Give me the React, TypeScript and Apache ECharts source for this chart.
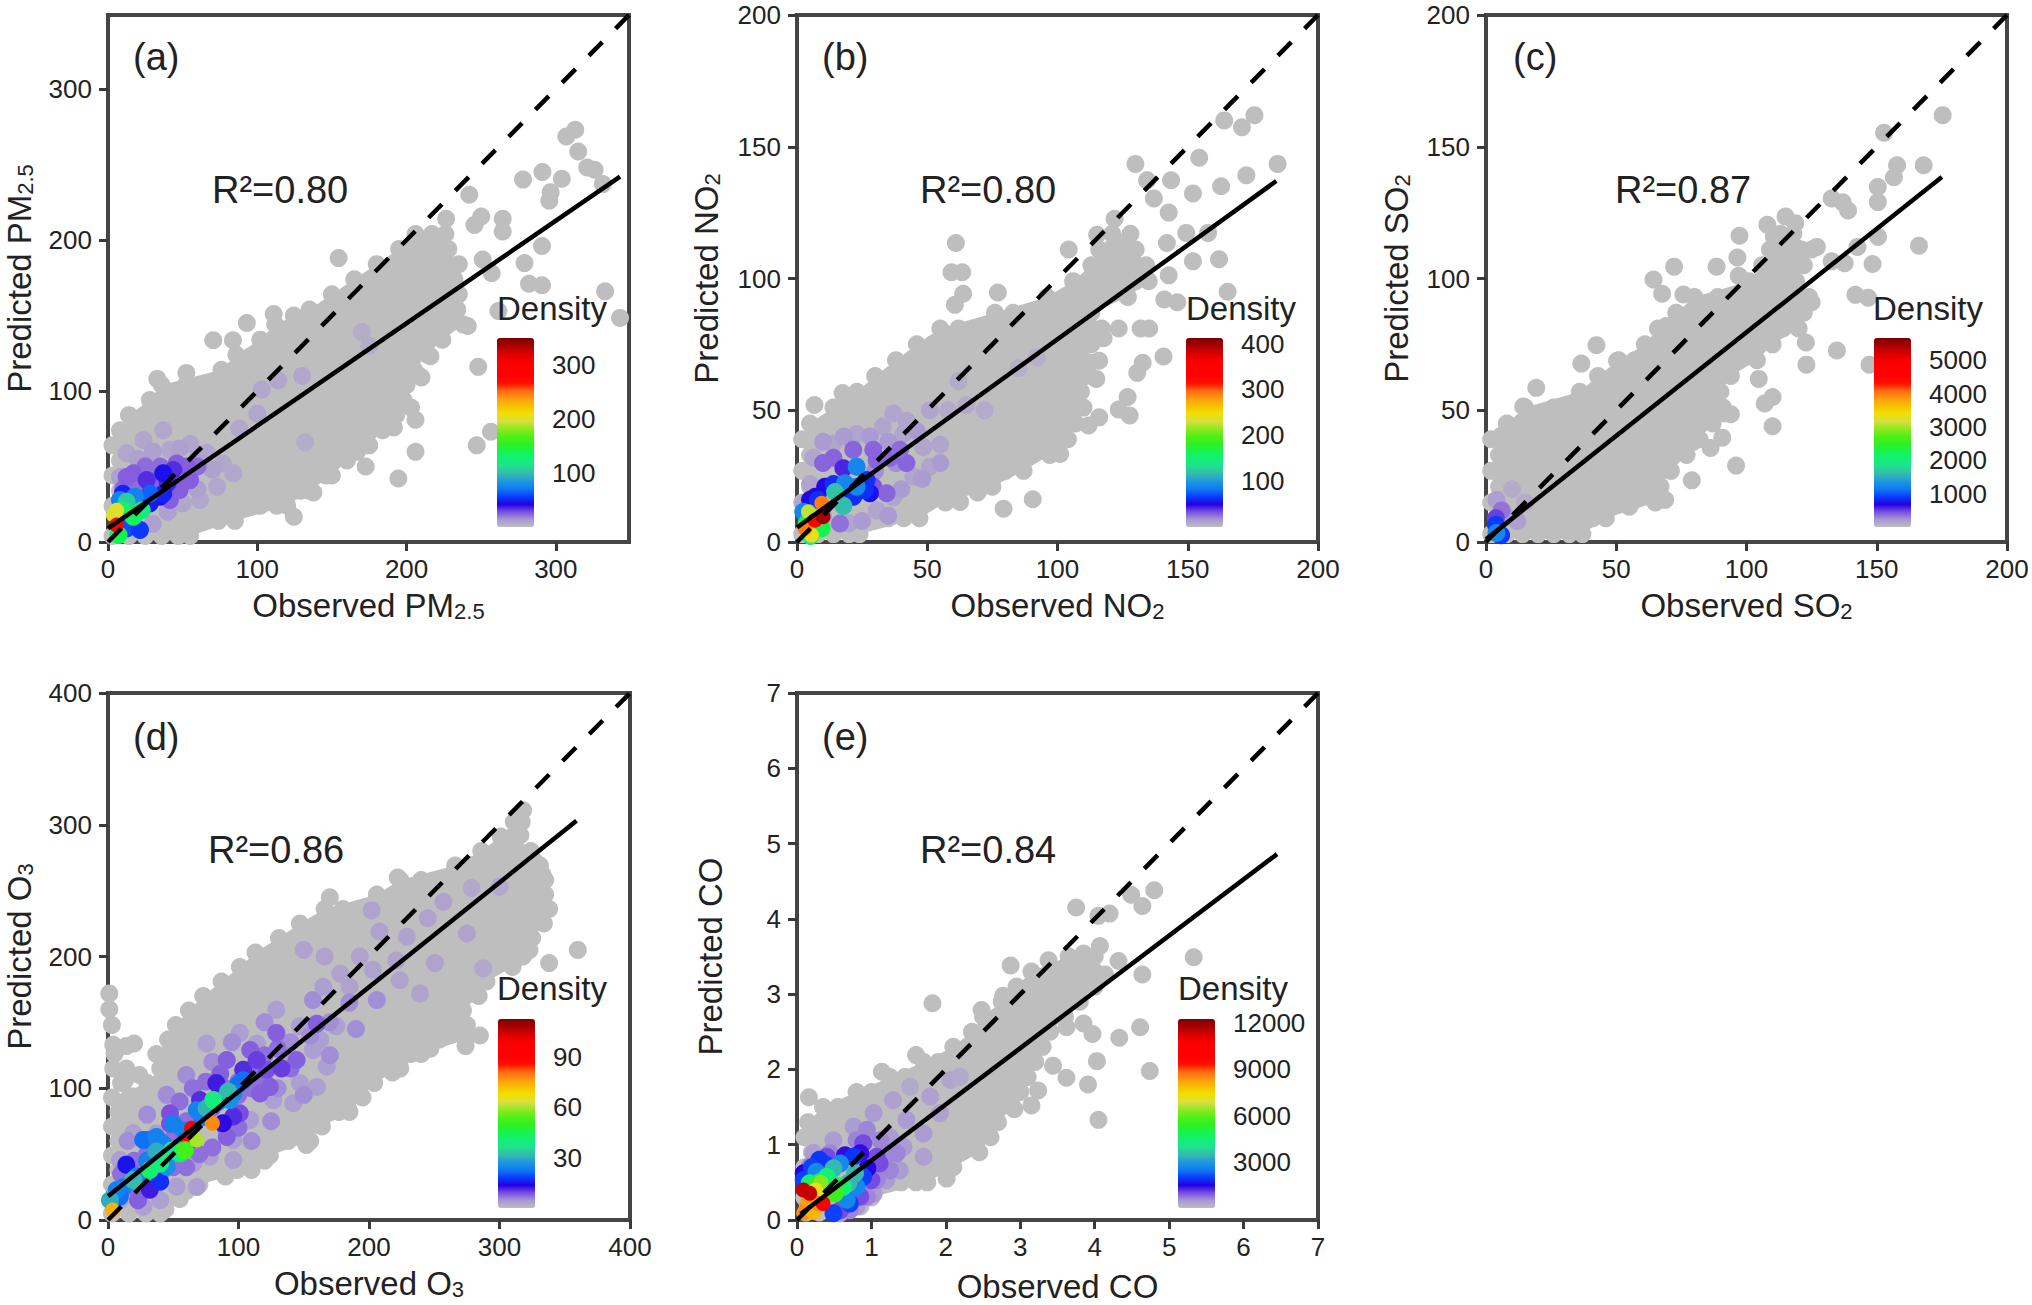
import React, { useEffect, useRef } from "react";
import * as echarts from "echarts";

// ---------- tick labels ----------
const ticksA = [0, 100, 200, 300];
const ticksB = [0, 50, 100, 150, 200];
const ticksC = [0, 50, 100, 150, 200];
const ticksD = [0, 100, 200, 300, 400];
const ticksE = [0, 1, 2, 3, 4, 5, 6, 7];
const densityTicksA = [100, 200, 300];
const densityTicksB = [100, 200, 300, 400];
const densityTicksC = [1000, 2000, 3000, 4000, 5000];
const densityTicksD = [30, 60, 90];
const densityTicksE = [3000, 6000, 9000, 12000];

// ---------- fitted lines [x, y] ----------
const fitA = [[0, 9], [343, 242]];
const fitB = [[0, 5.5], [184, 137]];
const fitC = [[0, 1], [175, 138.5]];
const fitD = [[0, 18], [359, 303]];
const fitE = [[0.05, 0.08], [6.45, 4.86]];

// ---------- gray points, rows of [y, x, x, ...] ----------
const rowsA = [
  [4, 3, 14, 25, 36, 47, 55],
  [14, 8, 19, 30, 41, 52, 63, 74, 85],
  [24, 3, 14, 25, 36, 47, 58, 69, 80, 91, 102, 113, 120],
  [34, 8, 19, 30, 41, 52, 63, 74, 85, 96, 107, 118, 129, 135],
  [44, 3, 14, 25, 36, 47, 58, 69, 80, 91, 102, 113, 124, 135, 146, 150],
  [54, 8, 19, 30, 41, 52, 63, 74, 85, 96, 107, 118, 129, 140, 151, 160],
  [64, 3, 14, 25, 36, 47, 58, 69, 80, 91, 102, 113, 124, 135, 146, 157, 168, 175],
  [74, 8, 19, 30, 41, 52, 63, 74, 85, 96, 107, 118, 129, 140, 151, 162, 173, 184],
  [84, 14, 25, 36, 47, 58, 69, 80, 91, 102, 113, 124, 135, 146, 157, 168, 179, 193],
  [94, 28, 41, 52, 63, 74, 85, 96, 107, 118, 129, 140, 151, 162, 173, 184, 198],
  [104, 36, 52, 63, 74, 87, 98, 109, 120, 131, 142, 153, 164, 175, 186, 200],
  [114, 76, 90, 102, 113, 124, 135, 146, 157, 168, 179, 190, 205],
  [124, 86, 100, 113, 124, 135, 146, 157, 168, 179, 190, 201, 214],
  [134, 102, 113, 124, 135, 146, 157, 168, 179, 190, 201, 212, 224],
  [144, 112, 125, 138, 149, 160, 171, 182, 193, 204, 215, 226, 238],
  [154, 135, 146, 157, 168, 179, 190, 201, 212, 223, 234],
  [164, 150, 161, 172, 183, 194, 205, 216, 227, 235],
  [174, 165, 176, 187, 198, 209, 220, 232],
  [184, 180, 191, 202, 213, 224, 235],
  [194, 195, 206, 217, 228],
  [204, 206, 217, 226],
];
const rowsB = [
  [3, 2, 8, 14, 20, 24],
  [9, 5, 11, 17, 23, 29, 35, 41, 47],
  [15, 2, 8, 14, 20, 26, 32, 38, 44, 50, 57],
  [21, 5, 11, 17, 23, 29, 35, 41, 47, 53, 59, 65, 71, 75],
  [27, 2, 8, 14, 20, 26, 32, 38, 44, 50, 56, 62, 68, 74, 80, 87],
  [33, 5, 11, 17, 23, 29, 35, 41, 47, 53, 59, 65, 71, 77, 83, 89, 97],
  [39, 2, 8, 14, 20, 26, 32, 38, 44, 50, 56, 62, 68, 74, 80, 86, 92, 98, 104],
  [45, 5, 11, 17, 23, 29, 35, 41, 47, 53, 59, 65, 71, 77, 83, 89, 95, 101, 107],
  [51, 14, 20, 26, 32, 38, 44, 50, 56, 62, 68, 74, 80, 86, 92, 98, 104, 110],
  [57, 23, 29, 35, 41, 47, 53, 59, 65, 71, 77, 83, 89, 95, 101, 109],
  [63, 30, 36, 42, 48, 54, 60, 66, 72, 78, 84, 90, 96, 102, 111],
  [69, 38, 44, 50, 56, 62, 68, 74, 80, 86, 92, 98, 104, 110],
  [75, 46, 52, 58, 64, 70, 76, 82, 88, 94, 100, 106, 113],
  [81, 55, 62, 68, 74, 80, 86, 92, 98, 104, 110, 117],
  [87, 76, 83, 89, 95, 101, 107, 113],
  [93, 96, 103, 110, 118, 127],
  [99, 106, 114, 122, 130, 135],
  [105, 113, 120, 127, 134],
  [111, 116, 123, 130],
  [117, 121, 128],
];
const rowsC = [
  [3, 2, 8, 14, 20, 26, 32, 37],
  [9, 5, 11, 17, 23, 29, 35, 41, 46],
  [15, 2, 8, 14, 20, 26, 32, 38, 44, 50, 56, 65],
  [21, 5, 11, 17, 23, 29, 35, 41, 47, 53, 59, 67],
  [27, 2, 8, 14, 20, 26, 32, 38, 44, 50, 56, 62, 71],
  [33, 5, 11, 17, 23, 29, 35, 41, 47, 53, 59, 65, 71, 77],
  [39, 2, 8, 14, 20, 26, 32, 38, 44, 50, 56, 62, 68, 74, 82],
  [45, 8, 14, 20, 26, 32, 38, 44, 50, 56, 62, 68, 74, 80, 87],
  [51, 15, 26, 32, 38, 44, 50, 56, 62, 68, 74, 80, 86, 91],
  [57, 36, 42, 48, 54, 60, 66, 72, 78, 84, 90],
  [63, 43, 49, 55, 61, 67, 73, 79, 85, 94],
  [69, 51, 57, 63, 69, 75, 81, 87, 93, 104],
  [75, 61, 67, 73, 79, 85, 91, 98, 104, 110],
  [81, 66, 72, 78, 84, 90, 96, 102, 108, 114, 120],
  [87, 73, 80, 86, 92, 98, 104, 110, 116, 122],
  [93, 80, 89, 100, 106, 112, 118, 124],
  [99, 101, 107, 113, 119],
  [105, 106, 112, 118, 122],
  [111, 109, 115, 121, 125],
  [117, 113, 118],
];
const rowsD = [
  [5, 3, 16, 29, 40],
  [16, 8, 21, 34, 47, 55],
  [27, 3, 16, 29, 42, 55, 70],
  [38, 8, 21, 34, 47, 60, 73, 86, 99, 110],
  [49, 3, 16, 29, 42, 55, 68, 81, 94, 107, 124],
  [60, 8, 21, 34, 47, 60, 73, 86, 99, 112, 125, 138, 155],
  [71, 3, 16, 29, 42, 55, 68, 81, 94, 107, 120, 133, 146, 164],
  [82, 8, 21, 34, 47, 60, 73, 86, 99, 112, 125, 138, 151, 164, 177, 185],
  [93, 3, 16, 29, 42, 55, 68, 81, 94, 107, 120, 133, 146, 159, 172, 185, 195],
  [104, 30, 47, 60, 73, 86, 99, 112, 125, 138, 151, 164, 177, 190, 204],
  [115, 40, 55, 68, 81, 94, 107, 120, 133, 146, 159, 172, 185, 198, 211, 224],
  [126, 37, 50, 63, 76, 89, 102, 115, 128, 141, 154, 167, 180, 193, 206, 219, 232, 240],
  [137, 46, 59, 72, 85, 98, 111, 124, 137, 150, 163, 176, 189, 202, 215, 228, 241, 254, 274],
  [148, 52, 65, 78, 91, 104, 117, 130, 143, 156, 169, 182, 195, 208, 221, 234, 247, 260, 275],
  [159, 62, 75, 88, 101, 114, 127, 140, 153, 166, 179, 192, 205, 218, 231, 244, 257, 272],
  [170, 73, 86, 99, 112, 125, 138, 151, 164, 177, 190, 203, 216, 229, 242, 255, 268, 284],
  [181, 87, 100, 113, 126, 139, 152, 165, 178, 191, 204, 217, 230, 243, 256, 269, 282, 290],
  [192, 101, 114, 127, 140, 153, 166, 179, 192, 205, 218, 231, 244, 257, 270, 283, 296, 310],
  [203, 113, 126, 139, 152, 165, 178, 191, 204, 217, 230, 243, 256, 269, 282, 295, 308, 320],
  [214, 131, 144, 157, 170, 183, 196, 209, 222, 235, 248, 261, 274, 287, 300, 313, 325],
  [225, 147, 163, 176, 189, 202, 215, 228, 241, 254, 267, 280, 293, 306, 319, 334],
  [236, 166, 180, 193, 206, 219, 232, 245, 258, 271, 284, 297, 310, 323, 338],
  [247, 206, 219, 232, 245, 258, 271, 284, 297, 310, 323, 335],
  [258, 224, 240, 260, 273, 286, 299, 312, 325, 335],
  [269, 266, 279, 292, 305, 318, 331],
  [280, 286, 299, 312, 324],
  [291, 301, 313],
  [302, 311, 317],
];
const rowsE = [
  [0.1, 0.12, 0.3, 0.5],
  [0.3, 0.1, 0.3, 0.5, 0.7, 0.85, 1.0],
  [0.5, 0.2, 0.4, 0.6, 0.8, 1.0, 1.2, 1.4, 1.6, 1.75],
  [0.7, 0.1, 0.3, 0.5, 0.7, 0.9, 1.1, 1.3, 1.5, 1.7, 1.9, 2.1],
  [0.9, 0.2, 0.4, 0.6, 0.8, 1.0, 1.2, 1.4, 1.6, 1.8, 2.0, 2.2, 2.45],
  [1.1, 0.1, 0.3, 0.5, 0.7, 0.9, 1.1, 1.3, 1.5, 1.7, 1.9, 2.1, 2.3, 2.6],
  [1.3, 0.15, 0.4, 0.6, 0.8, 1.0, 1.2, 1.4, 1.6, 1.8, 2.0, 2.2, 2.4, 2.7],
  [1.5, 0.35, 0.55, 0.75, 0.95, 1.15, 1.35, 1.55, 1.75, 1.95, 2.15, 2.35, 2.55, 2.9],
  [1.7, 0.8, 1.0, 1.2, 1.4, 1.6, 1.8, 2.0, 2.2, 2.4, 2.6, 3.0],
  [1.9, 1.25, 1.45, 1.65, 1.85, 2.05, 2.25, 2.45, 2.65, 2.85, 3.1],
  [2.1, 1.7, 1.9, 2.1, 2.3, 2.5, 2.7, 2.9, 3.2],
  [2.3, 2.1, 2.3, 2.5, 2.7, 2.9, 3.1, 3.3],
  [2.5, 2.35, 2.55, 2.75, 2.95, 3.15, 3.4],
  [2.7, 2.5, 2.7, 2.9, 3.1, 3.3, 3.6],
  [2.9, 2.75, 2.95, 3.15, 3.35, 3.55, 3.8],
  [3.1, 2.95, 3.15, 3.35, 3.55, 3.75, 4.0],
  [3.3, 3.15, 3.4, 3.6, 3.8, 4.0],
  [3.5, 3.65, 3.85, 4.0],
];

// ---------- scattered gray points [x, y] ----------
const looseA = [
  [313, 273], [307, 268.5], [315, 258.6], [321, 248], [326, 246.5], [291, 245], [304, 240.6], [278, 240],
  [296.5, 231.7], [295.6, 226], [331.5, 237], [242, 230], [250, 215.6], [245.5, 210], [226.5, 214],
  [264.4, 214], [264.4, 205.6], [290.7, 196], [279, 184.7], [251, 187], [257, 178], [282, 171], [290.7, 170],
  [333, 166], [343, 148.4], [154.5, 188], [261.5, 153], [229.5, 149.7], [241, 143], [248, 116], [256.5, 73],
  [247, 64], [206, 59.7], [194.5, 42], [191.5, 75.8], [206, 81], [203, 89], [210, 109], [207.6, 110.8],
  [216, 123], [111, 151], [124.5, 150], [93, 145], [70.5, 133.6], [83.7, 133.6], [103, 131], [33, 108],
  [52.5, 112], [124.5, 16.7], [172.6, 50], [166.8, 59.7], [137.6, 32.8],
];
const looseB = [
  [175.6, 162], [164, 160], [170.8, 157.4], [154.4, 145.8], [184.5, 143.5], [129.9, 143.5], [172.5, 139.2],
  [162.8, 135], [143.6, 137.3], [134.4, 137.3], [152, 132.3], [137, 130.4], [142.7, 125], [121.9, 122.7],
  [149.4, 117.3], [157.8, 117.3], [115.2, 116.6], [142, 113.5], [162, 107.3], [152, 106.5], [104.3, 111],
  [61, 113.5], [59.3, 102.4], [63.4, 102.4], [63.8, 94.2], [60.6, 90], [77.1, 94.7], [165.3, 95], [141, 92],
  [146, 91], [140.7, 70.4], [131.9, 81], [135.2, 81], [130.6, 64.2], [132.7, 68], [126.9, 55], [127.7, 48],
  [123.5, 50.3], [111.9, 44.2], [116, 47.3], [101, 33.4], [90.5, 16.2], [79.3, 12.6], [69.3, 18.8],
  [62.6, 15.2], [17.5, 56.5], [6.7, 52], [114.9, 61.9], [112.7, 68], [116, 68.8], [126.9, 98], [142.7, 101.2],
  [117.7, 77.3], [123.5, 81],
];
const looseC = [
  [175.3, 162], [152.8, 155.3], [157.8, 143], [156.6, 138.4], [168, 143], [150.4, 134.7], [150.4, 129],
  [132.7, 130.4], [136.9, 128.9], [139, 125.8], [150.5, 115.8], [142.6, 112], [166.2, 112.4], [148.4, 105.5],
  [137.7, 105.8], [132.7, 106.5], [141.8, 93.8], [146.7, 92.7], [147.2, 67.3], [134.7, 72.7], [122.8, 75.7],
  [123, 67.3], [115, 123.5], [118.7, 121], [108, 120.4], [110.5, 115.8], [97.3, 116.2], [96.5, 108], [97, 101],
  [88.5, 104.5], [72.2, 104.5], [64.3, 99.6], [67.6, 94.2], [75.8, 93.9], [80.8, 89.6], [73.4, 86.5],
  [69.2, 82], [42.4, 74.7], [36.6, 67.7], [50.3, 68.8], [19.3, 58.5], [14.3, 51.4], [5.8, 40.3], [8.2, 42.6],
  [110, 43.9], [107, 52.6], [110, 55], [96, 29], [79, 23.4], [68.8, 16], [55, 13.4], [91.5, 48.8], [94, 48.5],
  [90.7, 39.6], [86.2, 35.7], [79.5, 38], [104.7, 61.9], [127, 112], [125, 91],
];
const looseD = [
  [318, 311], [316, 292], [302, 288], [311, 270], [327, 272], [333, 262], [329, 240], [326, 227], [331, 228],
  [360, 205], [338, 195], [318, 200], [323, 205], [170, 245], [222, 260], [152, 57], [120, 45], [90, 33],
  [1, 172], [1, 160], [3, 148], [4, 133], [20, 134], [14, 132], [24, 110], [13, 106], [22, 90], [18, 94],
  [285, 140], [274, 132], [247, 130], [218, 112], [200, 107], [184, 84], [60, 22], [44, 8],
  [10, 104], [4, 115], [14, 115], [5, 126],
];
const looseE = [
  [4.8, 4.38], [4.49, 4.32], [4.64, 4.17], [4.2, 4.07], [4.05, 4.04], [3.75, 4.15], [4.07, 3.64], [4.32, 3.44],
  [5.33, 3.49], [4.64, 3.26], [4.14, 3.26], [2.87, 3.38], [3.38, 3.45], [3.85, 3.54], [1.82, 2.88], [4.61, 2.56],
  [4.33, 2.42], [4.03, 2.11], [4.74, 1.98], [4.05, 1.33], [3.91, 1.8], [3.62, 1.89], [3.44, 2.05], [3.18, 2.14],
  [3.85, 2.61], [3.97, 2.47], [3.62, 2.56], [3.24, 1.72], [3.15, 1.52], [2.92, 1.47], [0.16, 1.63], [1.14, 1.97],
  [1.6, 2.19], [2.48, 2.79], [2.77, 2.98], [2.01, 0.55], [0.85, 0.18],
];

// ---------- coloured points [x, y, density], painted in this order ----------
const hotA = [
  [37, 74, 8], [55, 65, 8], [66, 59, 8], [77, 52, 8], [84, 45.5, 8], [73, 36.6, 8], [61.6, 27.8, 8], [50, 25.6, 8],
  [12.5, 58.7, 8], [23.7, 67.5, 8], [41.5, 61, 8], [8, 43, 10], [103, 101, 8], [114, 107, 8], [130, 110, 8],
  [100, 85, 8], [88, 75, 8], [170, 139, 6], [175, 130, 6], [132, 66, 6],
  [20, 55, 10], [30, 60, 10], [48, 62, 10], [60, 55, 10], [70, 48, 10], [40, 20, 10], [30, 12, 10], [60, 35, 10],
  [20, 38, 22], [35, 50, 22], [60, 50, 22], [45, 35, 22], [25, 50, 22], [30, 35, 22], [10, 35, 22],
  [17, 45.5, 25], [32.6, 41, 25], [46, 52, 25], [55, 41, 25], [48, 34.4, 25], [52.7, 50, 25], [41.5, 27.8, 25], [12.5, 43, 25],
  [25.9, 41, 34], [43.8, 47.7, 34], [40, 39, 36],
  [37, 45.5, 46], [34.8, 30, 46], [28, 25.6, 48], [10, 32, 50], [16, 12.4, 52],
  [37, 32, 50], [12.5, 9, 60], [21.4, 8, 55],
  [8, 27.8, 75], [28, 32, 65], [18, 30, 75],
  [12.5, 26.7, 105],
  [22.6, 21, 120], [10, 21, 130], [17, 16.8, 135], [7, 4.6, 140],
  [5.8, 21, 200], [3.6, 17.9, 200], [5.8, 11.3, 290],
];
const hotB = [
  [6.3, 32, 10], [14, 37.4, 10], [23, 41, 10], [33, 43.8, 10], [40.8, 41, 10], [48.5, 36, 10], [51, 28.6, 10],
  [44.7, 24.8, 10], [37, 17, 10], [30.6, 12, 10], [20, 7, 10], [5, 22, 10], [2.4, 14.7, 10], [55, 37, 10],
  [37, 48.8, 10], [42, 46, 10], [51, 50, 10], [72, 50, 8], [62, 61, 8], [58, 50, 8], [92, 70, 6], [85, 66, 6], [65, 52, 8],
  [10, 38, 14], [18, 40, 14], [28, 40, 14], [35, 38, 14], [46, 42, 14], [55, 30, 14], [48, 24, 14], [40, 20, 14],
  [25, 8, 14], [35, 10, 14], [10, 10, 14], [30, 27, 18], [38, 30, 18],
  [14, 32, 28], [21.6, 35, 28], [29.3, 35, 28], [35.7, 32, 28], [42, 30, 28], [39.5, 35, 26], [30.6, 31, 28],
  [29.3, 21, 32], [34.4, 18.5, 28], [16.5, 7, 25], [10, 30, 28],
  [17.8, 28, 42],
  [10.8, 21, 52], [7, 17.2, 52], [5, 16, 52], [28, 18.5, 55],
  [26.7, 23.5, 62], [26, 19.7, 62], [21.6, 17.2, 62], [8, 16, 62], [14, 22, 62],
  [22.9, 28.6, 90], [18.4, 22.3, 90], [22.9, 21, 90], [2.4, 11.5, 90],
  [14.6, 19, 120], [17.8, 13.7, 118],
  [3.7, 7, 165], [9.5, 5.2, 165], [5.2, 2.3, 140],
  [4.4, 11.5, 225], [5.6, 2.6, 240], [9.5, 14.7, 290], [3, 5.2, 290],
  [6.9, 8.3, 330], [10, 9.6, 395],
];
const hotC = [
  [10, 20, 100], [15, 15, 100], [4, 16, 170], [8, 9.5, 170], [12, 8, 170], [6, 12, 340], [3.8, 9, 500],
  [3.8, 6.5, 900], [5.8, 2.6, 900], [4, 3.4, 1250],
];
const hotD = [
  [19.4, 65.8, 3.5], [37.3, 65.8, 3.5], [9.2, 45.6, 3.5], [19.4, 25.3, 3.5], [75.6, 134, 3.5], [101, 142, 3.5], [129, 159.5, 3.5],
  [114, 134, 3.5], [147, 147, 3.5], [137, 126.6, 3.5], [157, 129, 3.5], [167.6, 116.5, 3.5], [147, 104, 3.5], [126.7, 91, 3.5],
  [142, 88.6, 3.5], [109, 76, 3.5], [96, 60.8, 3.5], [78, 48, 3.5], [65.4, 43, 3.5], [52.6, 25.3, 3.5], [40, 15, 3.5], [27, 10, 3.5],
  [9, 15, 3.5], [96, 45.6, 3.5], [68, 25, 3.5], [162.5, 136.7, 3.5], [160, 101, 3.5],
  [202, 235, 3], [208, 219, 3], [229, 215, 3], [245, 229, 3], [257, 241.6, 3], [275, 217.5, 3], [300, 253, 2.5], [278.5, 252, 2.5],
  [287.5, 191, 2.5], [250.5, 195, 3], [193, 200, 3], [166, 200, 3], [150, 205, 3], [206, 167, 5], [239, 172, 3], [223.6, 182, 3],
  [203, 190, 3], [175, 147, 3.5], [157, 167, 5], [165, 177, 3.5], [178, 187, 3], [185, 177, 3], [221, 197, 3],
  [120, 150, 5], [140, 135, 5], [155, 140, 5], [170, 150, 5], [185, 165, 5], [130, 100, 5], [150, 95, 5], [170, 125, 5], [190, 145, 5],
  [60, 110, 5], [45, 95, 5], [30, 80, 5], [15, 60, 5], [80, 120, 5], [95, 135, 5], [110, 60, 5], [125, 75, 5],
  [10, 35, 7], [20, 45, 7], [30, 50, 7], [40, 58, 7], [50, 62, 7], [60, 75, 7], [70, 78, 7], [80, 85, 7], [90, 100, 7], [100, 105, 7],
  [110, 100, 7], [120, 105, 7], [60, 40, 7], [70, 50, 7], [80, 55, 7], [90, 70, 7], [100, 70, 7], [30, 30, 7], [40, 35, 7], [50, 40, 7],
  [20, 25, 7], [10, 20, 7], [55, 90, 7], [65, 100, 7], [75, 105, 7], [85, 95, 7], [120, 125, 7], [130, 130, 7], [140, 115, 7], [110, 115, 7], [100, 95, 7],
  [160, 149, 8], [129, 142, 8], [144.5, 121.5, 8], [47.5, 81, 9], [47.5, 73, 9], [29.6, 60.8, 9], [23, 15, 8], [101, 81, 9], [121.6, 114, 9],
  [124, 101, 8], [109, 129, 8], [91, 121.5, 8], [86, 111, 8], [116.5, 96, 8], [91, 63, 8], [96, 78.5, 11], [70.5, 91, 11],
  [103.6, 114, 11], [32, 23, 12],
  [40, 29, 17], [14, 42, 15], [83, 104, 12], [114, 121.5, 10], [133, 115, 10], [88, 73.4, 13],
  [12, 25, 24], [22, 33, 24], [30, 45, 24], [42, 58, 24], [58, 68, 24], [72, 78, 24], [85, 90, 24], [100, 103, 22],
  [27, 60.8, 22], [37, 63, 24], [50, 73, 24], [68, 83.5, 24], [103.6, 106, 22], [96, 96, 24], [93.5, 91, 26], [9, 17.7, 22], [6.6, 22.8, 24], [45, 40.5, 26],
  [37, 52, 30], [75.6, 84.8, 31], [92, 97.5, 32], [1.5, 15, 30], [19.4, 30.4, 32],
  [32, 38, 42], [55, 50.6, 42], [40, 43, 40], [80.7, 91, 40], [49, 53, 38],
  [64, 69.6, 90], [61.5, 58, 88], [80, 73.4, 78], [59, 53, 52], [68, 60.8, 60], [3.6, 7.6, 74],
];
const hotE = [
  [1.79, 1.64, 350], [1.47, 1.33, 400], [1.25, 1.1, 400], [1.7, 1.15, 400], [1.43, 0.97, 400], [1.38, 0.66, 400], [1.2, 0.53, 400],
  [1.03, 0.35, 400], [0.8, 0.18, 400], [0.58, 0.09, 400], [2.06, 1.86, 300], [1.92, 1.42, 350], [1.7, 0.84, 350], [0.49, 1.06, 400],
  [0.22, 0.89, 400], [0.76, 1.24, 400], [1.03, 1.42, 400], [1.29, 1.59, 350], [2.19, 1.9, 250], [1.52, 1.77, 250],
  [0.8, 1.06, 600], [1.12, 1.06, 600], [1.34, 0.885, 600], [1.25, 0.66, 600], [1.07, 0.53, 600], [0.94, 0.31, 600], [0.71, 0.13, 600],
  [0.44, 0.885, 600], [0.94, 1.2, 600], [1.16, 0.8, 600], [0.17, 0.71, 600],
  [1.07, 0.84, 1000], [0.89, 1.02, 1000], [1.0, 0.53, 1000], [0.85, 0.31, 1000], [0.58, 0.13, 1000], [0.4, 0.84, 1000], [1.11, 0.75, 1000],
  [0.945, 0.686, 1500], [0.645, 0.86, 1400], [0.09, 0.62, 1500], [0.85, 0.885, 1400],
  [0.89, 0.575, 2000], [0.71, 0.22, 2000], [0.49, 0.09, 2000], [0.4, 0.73, 2000], [0.76, 0.84, 1900], [0.3, 0.8, 1900], [0.2, 0.7, 2000], [0.09, 0.53, 2000],
  [0.8, 0.44, 2700], [0.58, 0.75, 2700], [0.26, 0.64, 2700], [0.67, 0.27, 2700],
  [0.69, 0.49, 3440], [0.78, 0.62, 3440], [0.49, 0.686, 3440],
  [0.4, 0.575, 4420], [0.17, 0.487, 4420], [0.62, 0.44, 4420], [0.3, 0.5, 4700], [0.55, 0.45, 4700],
  [0.51, 0.354, 5600], [0.26, 0.443, 5600], [0.32, 0.5, 6300],
  [0.3, 0.3, 7000], [0.25, 0.4, 7200], [0.13, 0.177, 8500], [0.09, 0.09, 8500], [0.22, 0.1, 8000], [0.15, 0.25, 8300], [0.28, 0.22, 8500],
  [0.35, 0.22, 10000], [0.17, 0.354, 11500], [0.085, 0.4, 11500],
];

// ---------- colour ramp, bottom to top ----------
const ramp = [
  "#bebebe", "#a796d6", "#7a4fe0", "#2400e0", "#0a3cff", "#0f78f5", "#1e96e0", "#35b8b0", "#20e090",
  "#12f078", "#14f450", "#30f020", "#50f018", "#90e820", "#d8e040", "#f0e000", "#f8c000", "#ff9a10",
  "#ff6a10", "#ff1000", "#ff0000", "#ff0000", "#f80000", "#d80000", "#a80000", "#800000",
];

const FONT = '"Liberation Sans", Arial, sans-serif';
const INK = "#222222";
const FRAME = "#454545";
const GRAY = "#bebebe";

const panels = [
  { tag: "(a)", r2: "R²=0.80", xName: "{n|Observed PM}{s|2.5}", yName: "{n|Predicted PM}{s|2.5}", max: 349, ticks: ticksA, fit: fitA, rows: rowsA, loose: looseA, hot: hotA,
    dMax: 350, dTicks: densityTicksA, grid: [108, 15, 521, 527], bar: [497, 338], tagAt: [133, 57], r2At: [212, 190], dAt: [497, 308], yGap: 72, xGap: 46 },
  { tag: "(b)", r2: "R²=0.80", xName: "{n|Observed NO}{s|2}", yName: "{n|Predicted NO}{s|2}", max: 200, ticks: ticksB, fit: fitB, rows: rowsB, loose: looseB, hot: hotB,
    dMax: 412, dTicks: densityTicksB, grid: [797, 15, 521, 527], bar: [1186, 338], tagAt: [822, 57], r2At: [920, 190], dAt: [1186, 308], yGap: 74, xGap: 46 },
  { tag: "(c)", r2: "R²=0.87", xName: "{n|Observed SO}{s|2}", yName: "{n|Predicted SO}{s|2}", max: 200, ticks: ticksC, fit: fitC, rows: rowsC, loose: looseC, hot: hotC,
    dMax: 5670, dTicks: densityTicksC, grid: [1486, 15, 521, 527], bar: [1874, 338], tagAt: [1513, 57], r2At: [1615, 190], dAt: [1873, 308], yGap: 73, xGap: 46 },
  { tag: "(d)", r2: "R²=0.86", xName: "{n|Observed O}{s|3}", yName: "{n|Predicted O}{s|3}", max: 400, ticks: ticksD, fit: fitD, rows: rowsD, loose: looseD, hot: hotD,
    dMax: 112.5, dTicks: densityTicksD, grid: [108, 693, 522, 527], bar: [498, 1019], tagAt: [133, 737], r2At: [208, 850], dAt: [497, 988], yGap: 72, xGap: 46 },
  { tag: "(e)", r2: "R²=0.84", xName: "{n|Observed CO}", yName: "{n|Predicted CO}", max: 7, ticks: ticksE, fit: fitE, rows: rowsE, loose: looseE, hot: hotE,
    dMax: 12275, dTicks: densityTicksE, grid: [797, 693, 521, 527], bar: [1178, 1019], tagAt: [822, 737], r2At: [920, 850], dAt: [1178, 988], yGap: 70, xGap: 49 },
];

const nameRich = {
  n: { fontSize: 33, fontFamily: FONT, color: INK, lineHeight: 34, verticalAlign: "middle" },
  s: { fontSize: 22, fontFamily: FONT, color: INK, lineHeight: 4, verticalAlign: "bottom" },
};

function buildOption() {
  const grid: any[] = [];
  const xAxis: any[] = [];
  const yAxis: any[] = [];
  const series: any[] = [];
  const visualMap: any[] = [];
  const graphic: any[] = [];
  const label = (text: string, at: number[], size: number) => ({
    type: "text", x: at[0], y: at[1], silent: true, z: 50,
    style: { text, fontSize: size, fontFamily: FONT, fill: INK, textVerticalAlign: "middle", textAlign: "left" },
  });

  panels.forEach((p, i) => {
    const [left, top, width, height] = p.grid;
    grid.push({ left, top, width, height, outerBoundsMode: "none", show: true, borderColor: FRAME, borderWidth: 4, backgroundColor: "transparent" });
    const axisCommon = {
      type: "value", min: 0, max: p.max, gridIndex: i, splitLine: { show: false },
      axisLine: { show: true, onZero: false, lineStyle: { color: FRAME, width: 4 } },
      axisTick: { show: true, length: 9, customValues: p.ticks, lineStyle: { color: "#3a3a3a", width: 3 } },
      nameLocation: "middle",
      nameTextStyle: { rich: nameRich },
    };
    xAxis.push({
      ...axisCommon, name: p.xName, nameGap: p.xGap,
      axisLabel: { customValues: p.ticks, fontSize: 26, fontFamily: FONT, color: INK, margin: 14 },
    });
    yAxis.push({
      ...axisCommon, name: p.yName, nameGap: p.yGap,
      axisLabel: { customValues: p.ticks, fontSize: 26, fontFamily: FONT, color: INK, margin: 16 },
    });

    // body of the gray cloud, outlined by the first and last point of each row
    const outline: number[][] = [
      ...p.rows.map((row) => [row[1], row[0]]),
      ...[...p.rows].reverse().map((row) => [row[row.length - 1], row[0]]),
    ];
    series.push({
      type: "custom", xAxisIndex: i, yAxisIndex: i, coordinateSystem: "cartesian2d", data: [[0, 0]], z: 1, silent: true, clip: true,
      renderItem: (_: any, api: any) => ({
        type: "polygon",
        shape: { points: outline.map((pt) => api.coord(pt)) },
        style: { fill: GRAY },
      }),
    });

    const gray: number[][] = [];
    p.rows.forEach((row) => row.slice(1).forEach((x) => gray.push([x, row[0], 0])));
    p.loose.forEach((pt) => gray.push([pt[0], pt[1], 0]));
    const data = gray.concat(p.hot);
    const scatterIndex = series.length;
    series.push({
      type: "scatter", xAxisIndex: i, yAxisIndex: i, data, clip: true, z: 2, silent: true,
      symbolSize: (v: number[]) => (v[2] / p.dMax >= 0.5 ? 15 : 18),
      itemStyle: { opacity: 1 },
    });
    series.push({
      type: "line", xAxisIndex: i, yAxisIndex: i, data: [[0, 0], [p.max, p.max]], symbol: "none", z: 4, silent: true,
      lineStyle: { color: "#000", width: 4.5, type: [19, 19] },
    });
    series.push({
      type: "line", xAxisIndex: i, yAxisIndex: i, data: p.fit, symbol: "none", z: 5, silent: true,
      lineStyle: { color: "#000", width: 4.5 },
    });
    visualMap.push({
      type: "continuous", seriesIndex: scatterIndex, dimension: 2, min: 0, max: p.dMax, show: true,
      left: p.bar[0], top: p.bar[1], itemWidth: 37, itemHeight: 189, padding: 0, calculable: false, hoverLink: false,
      showLabel: false, text: null, inRange: { color: ramp },
    });
    graphic.push(label(p.tag, p.tagAt, 38), label(p.r2, p.r2At, 38), label("Density", p.dAt, 33));
  });

  // colour bars carry their own value axis for the tick labels
  panels.forEach((p) => {
    const g = grid.length;
    grid.push({ left: p.bar[0], top: p.bar[1], width: 37, height: 189, outerBoundsMode: "none", show: false });
    xAxis.push({ type: "value", gridIndex: g, min: 0, max: 1, show: false });
    yAxis.push({
      type: "value", gridIndex: g, min: 0, max: p.dMax, position: "right",
      splitLine: { show: false }, axisLine: { show: false }, axisTick: { show: false },
      axisLabel: { customValues: p.dTicks, formatter: (v: number) => String(v), fontSize: 26, fontFamily: FONT, color: INK, margin: 18 },
    });
  });

  return { animation: false, backgroundColor: "#ffffff", grid, xAxis, yAxis, series, visualMap, graphic: { elements: graphic } };
}

export default function App() {
  const ref = useRef<HTMLDivElement>(null);
  useEffect(() => {
    document.body.style.margin = "0";
    const chart = echarts.init(ref.current!, undefined, { renderer: "svg" });
    chart.setOption(buildOption() as any);
    return () => chart.dispose();
  }, []);
  return <div ref={ref} style={{ width: 2032, height: 1305 }} />;
}
